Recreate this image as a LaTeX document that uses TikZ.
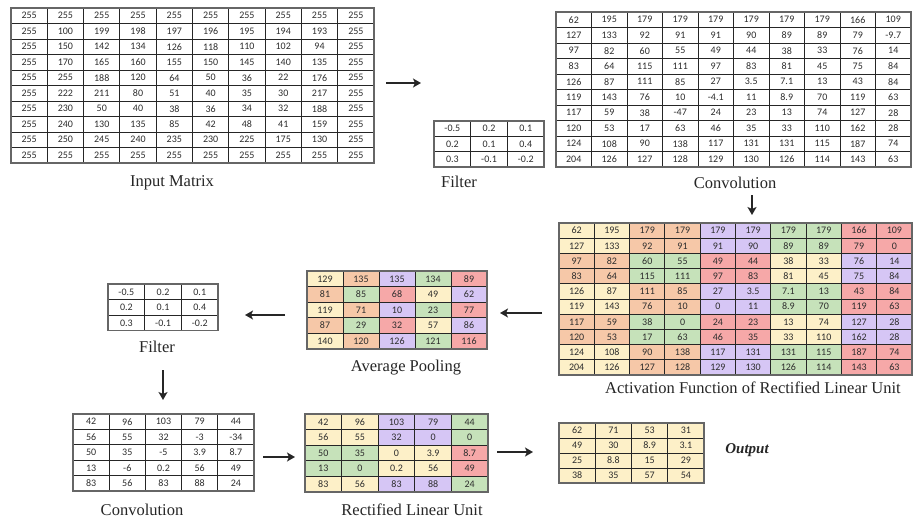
\documentclass[tikz,border=0pt]{standalone}
\usepackage{fontspec}
\setmainfont{Liberation Serif}
\newfontfamily\numfont{Carlito}
\usetikzlibrary{arrows.meta}
\definecolor{cy}{RGB}{253,240,200}
\definecolor{co}{RGB}{246,200,168}
\definecolor{cp}{RGB}{214,198,245}
\definecolor{cg}{RGB}{198,226,186}
\definecolor{cr}{RGB}{246,168,168}
\definecolor{cw}{RGB}{255,255,255}
\definecolor{numtxt}{RGB}{45,45,45}
\tikzset{
  cell/.style={draw=black!85, line width=0.9pt, inner sep=0pt, text=numtxt,
    font=\numfont\fontsize{10}{10}\selectfont},
  frame/.style={draw=black!60, line width=1.3pt},
  lbl/.style={inner sep=0pt, font=\fontsize{16.5}{16.5}\selectfont, text=black!85},
  arr/.style={line width=1.8pt, -{Stealth[length=8pt,width=9pt,inset=2pt]}, black!85},
}
% plain matrix: name, x, y, cw, ch, ncols, nrows, fill, rows
\newcommand{\plainmat}[9]{%
  \foreach \row [count=\r] in {#9}{%
    \foreach \v [count=\c] in \row {%
      \node[cell, fill=#8, minimum width=#4pt, minimum height=#5pt]
        (#1-\r-\c) at ({#2+(\c-0.5)*#4},{#3+(\r-0.5)*#5}) {\v};
    }%
  }%
  \draw[frame] (#2,#3) rectangle ++({#6*#4},{#7*#5});
}
% coloured matrix: name, x, y, cw, ch, ncols, nrows, rows of value/colour
\newcommand{\colmat}[8]{%
  \foreach \row [count=\r] in {#8}{%
    \foreach \v/\k [count=\c] in \row {%
      \node[cell, fill=c\k, minimum width=#4pt, minimum height=#5pt]
        (#1-\r-\c) at ({#2+(\c-0.5)*#4},{#3+(\r-0.5)*#5}) {\v};
    }%
  }%
  \draw[frame] (#2,#3) rectangle ++({#6*#4},{#7*#5});
}
\begin{document}
\begin{tikzpicture}[x=1pt,y=-1pt]
\useasboundingbox[fill=white] (0,0) rectangle (913,520);

% Input matrix
\plainmat{inp}{11}{8}{36.3}{15.5}{10}{10}{cw}{
{255,255,255,255,255,255,255,255,255,255},
{255,100,199,198,197,196,195,194,193,255},
{255,150,142,134,126,118,110,102,94,255},
{255,170,165,160,155,150,145,140,135,255},
{255,255,188,120,64,50,36,22,176,255},
{255,222,211,80,51,40,35,30,217,255},
{255,230,50,40,38,36,34,32,188,255},
{255,240,130,135,85,42,48,41,159,255},
{255,250,245,240,235,230,225,175,130,255},
{255,255,255,255,255,255,255,255,255,255}}
\node[lbl] (lInp) at (172,183) {Input Matrix};

% Filter (top)
\plainmat{ft}{434}{121}{36.7}{15.3}{3}{3}{cw}{
{-0.5,0.2,0.1},{0.2,0.1,0.4},{0.3,-0.1,-0.2}}
\node[lbl] (lFt) at (459,182) {Filter};

% Convolution (top)
\plainmat{cv}{556}{12}{35.5}{15.5}{10}{10}{cw}{
{62,195,179,179,179,179,179,179,166,109},
{127,133,92,91,91,90,89,89,79,-9.7},
{97,82,60,55,49,44,38,33,76,14},
{83,64,115,111,97,83,81,45,75,84},
{126,87,111,85,27,3.5,7.1,13,43,84},
{119,143,76,10,-4.1,11,8.9,70,119,63},
{117,59,38,-47,24,23,13,74,127,28},
{120,53,17,63,46,35,33,110,162,28},
{124,108,90,138,117,131,131,115,187,74},
{204,126,127,128,129,130,126,114,143,63}}
\node[lbl] (lCv) at (735,183) {Convolution};

% Activation (ReLU) big
\colmat{act}{559}{223}{35.3}{15.2}{10}{10}{
{62/y,195/y,179/o,179/o,179/p,179/p,179/g,179/g,166/r,109/r},
{127/y,133/y,92/o,91/o,91/p,90/p,89/g,89/g,79/r,0/r},
{97/o,82/o,60/g,55/g,49/r,44/r,38/y,33/y,76/p,14/p},
{83/o,64/o,115/g,111/g,97/r,83/r,81/y,45/y,75/p,84/p},
{126/y,87/y,111/o,85/o,27/p,3.5/p,7.1/g,13/g,43/r,84/r},
{119/y,143/y,76/o,10/o,0/p,11/p,8.9/g,70/g,119/r,63/r},
{117/o,59/o,38/g,0/g,24/r,23/r,13/y,74/y,127/p,28/p},
{120/o,53/o,17/g,63/g,46/r,35/r,33/y,110/y,162/p,28/p},
{124/y,108/y,90/o,138/o,117/p,131/p,131/g,115/g,187/r,74/r},
{204/y,126/y,127/o,128/o,129/p,130/p,126/g,114/g,143/r,63/r}}
\node[lbl] (lAct) at (753,388) {Activation Function of Rectified Linear Unit};

% Average pooling
\colmat{avg}{307}{271}{36}{15.6}{5}{5}{
{129/y,135/o,135/p,134/g,89/r},
{81/o,85/g,68/r,49/y,62/p},
{119/y,71/o,10/p,23/g,77/r},
{87/o,29/g,32/r,57/y,86/p},
{140/y,120/o,126/p,121/g,116/r}}
\node[lbl] (lAvg) at (406,368) {Average Pooling};

% Filter (left)
\plainmat{fl}{108}{284}{36.7}{15.6}{3}{3}{cw}{
{-0.5,0.2,0.1},{0.2,0.1,0.4},{0.3,-0.1,-0.2}}
\node[lbl] (lFl) at (157,347) {Filter};

% Convolution (bottom)
\plainmat{cb}{73}{414}{36.2}{15.4}{5}{5}{cw}{
{42,96,103,79,44},
{56,55,32,-3,-34},
{50,35,-5,3.9,8.7},
{13,-6,0.2,56,49},
{83,56,83,88,24}}
\node[lbl] (lCb) at (142,510) {Convolution};

% Rectified linear unit (bottom)
\colmat{rb}{305}{414}{36.6}{15.6}{5}{5}{
{42/y,96/y,103/p,79/p,44/g},
{56/y,55/y,32/p,0/p,0/g},
{50/g,35/g,0/y,3.9/y,8.7/r},
{13/g,0/g,0.2/y,56/y,49/r},
{83/y,56/y,83/p,88/p,24/g}}
\node[lbl] (lRb) at (412,510) {Rectified Linear Unit};

% Output
\plainmat{out}{559}{423}{36.25}{15}{4}{4}{cy}{
{62,71,53,31},{49,30,8.9,3.1},{25,8.8,15,29},{38,35,57,54}}
\node[lbl, font=\bfseries\itshape\fontsize{15}{15}\selectfont] (lOut) at (747,450) {Output};

% arrow end points
\coordinate (a1s) at (386,83);  \coordinate (a1e) at (421,83);
\coordinate (a2s) at (752,195); \coordinate (a2e) at (752,215);
\coordinate (a3s) at (542,313); \coordinate (a3e) at (500,313);
\coordinate (a4s) at (285,315); \coordinate (a4e) at (245,315);
\coordinate (a5s) at (163,370); \coordinate (a5e) at (163,400);
\coordinate (a6s) at (263,457); \coordinate (a6e) at (295,457);
\coordinate (a7s) at (497,452); \coordinate (a7e) at (533,452);
\draw[arr] (a1s) -- (a1e);
\draw[arr] (a2s) -- (a2e);
\draw[arr] (a3s) -- (a3e);
\draw[arr] (a4s) -- (a4e);
\draw[arr] (a5s) -- (a5e);
\draw[arr] (a6s) -- (a6e);
\draw[arr] (a7s) -- (a7e);
\end{tikzpicture}
\end{document}
